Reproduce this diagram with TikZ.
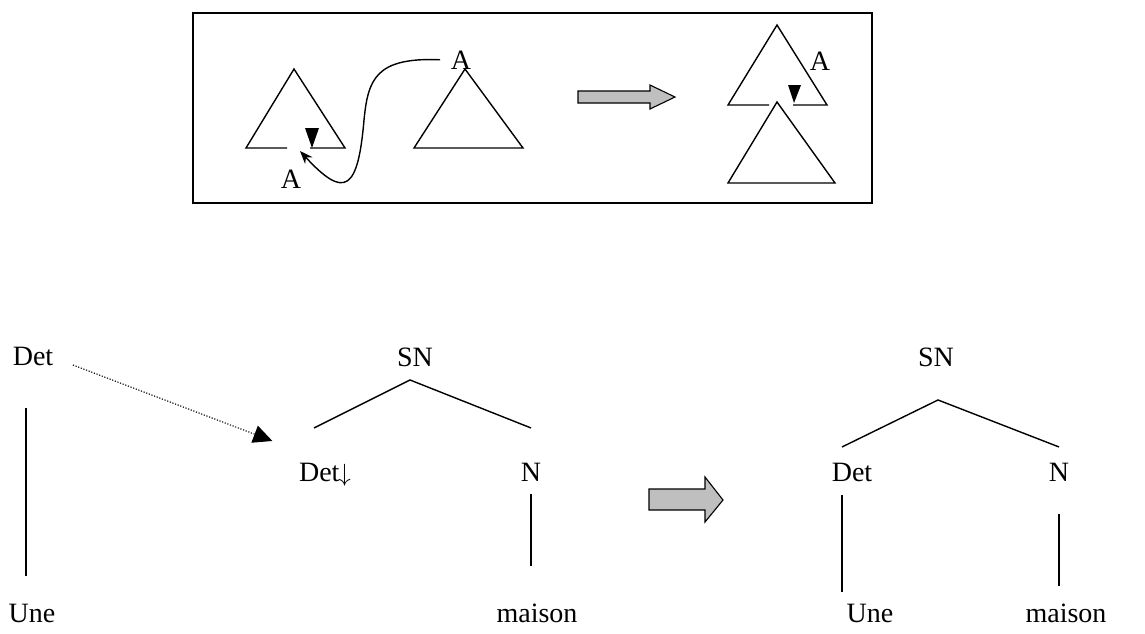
\documentclass[tikz,border=0pt]{standalone}
\usepackage{fontspec}
\setmainfont{Liberation Serif}
\usetikzlibrary{arrows.meta, positioning, calc}

\begin{document}
\begin{tikzpicture}[x=1pt, y=-1pt, line width=1.4pt,
  lbl/.style={font=\fontsize{28}{34}\selectfont, anchor=base, inner sep=0pt},
  blockarrow/.style={draw=black, fill=black!25, line width=1.1pt}]
  \useasboundingbox (0,0) rectangle (1145,633);

  \draw[line width=1.5pt] (193,13) rectangle (872,203);

  \draw (287,148) -- (246,148) -- (294,69) -- (345,148) -- (310,148);
  \fill (305,128) -- (319,128) -- (312,148) -- cycle;
  \node[lbl] (aFoot) at (291,188) {A};
  \coordinate (footGap) at (300,151);

  \draw (414,148) -- (465,69) -- (523,148) -- cycle;
  \node[lbl] (aRoot) at (461,69) {A};
  \coordinate[left=10pt of aRoot.west] (substStart);
  \draw[-{Stealth[length=13pt,width=10pt]}] (substStart) .. controls (375,57) and (368,80) .. (364,120) .. controls (358,190) and (345,200) .. (footGap);

  \draw[blockarrow] (578,91) -- (650,91) -- (650,85) -- (675,97) -- (650,109) -- (650,103) -- (578,103) -- cycle;

  \draw (769,105) -- (728,105) -- (777,25) -- (827,105) -- (793,105);
  \fill (788,85) -- (801,85) -- (794,103) -- cycle;
  \node[lbl] (aSub) at (820,70) {A};
  \draw (728,183) -- (777,102) -- (835,183) -- cycle;

  \node[lbl] (detLone) at (33,365) {Det};
  \node[lbl] (uneLone) at (32,622) {Une};
  \draw ($(detLone.south)+(-7,42)$) -- ($(uneLone.north)+(-6,-27)$);

  \node[lbl] (snL) at (415,366) {SN};
  \node[lbl] (detSlot) at (325,481) {Det\kern-1pt$\downarrow$};
  \node[lbl] (nL) at (531,481) {N};
  \node[lbl] (maisonL) at (537,622) {maison};
  \draw ($(detSlot.north)+(-11,-34)$) -- ($(snL.south)+(-5,13)$) -- ($(nL.north)+(0,-34)$);
  \draw ($(nL.south)+(0,12)$) -- ($(maisonL.north)+(-6,-37)$);

  \draw[line width=1.1pt, dash pattern=on 1.2pt off 1.6pt, -{Triangle[length=19pt,width=18pt]}] ($(detLone.east)+(19,9)$) -- ($(detSlot.north west)+(-26,-21)$);

  \draw[blockarrow] (649,489) -- (705,489) -- (705,477) -- (723,500) -- (705,522) -- (705,510) -- (649,510) -- cycle;

  \node[lbl] (snR) at (936,366) {SN};
  \node[lbl] (detR) at (852,481) {Det};
  \node[lbl] (nR) at (1059,481) {N};
  \node[lbl] (uneR) at (870,622) {Une};
  \node[lbl] (maisonR) at (1066,622) {maison};
  \draw ($(detR.north)+(-10,-15)$) -- ($(snR.south)+(2,33)$) -- ($(nR.north)+(0,-15)$);
  \draw ($(detR.south)+(-10,13)$) -- ($(uneR.north)+(-28,-11)$);
  \draw ($(nR.south)+(0,32)$) -- ($(maisonR.north)+(-7,-17)$);
\end{tikzpicture}
\end{document}
